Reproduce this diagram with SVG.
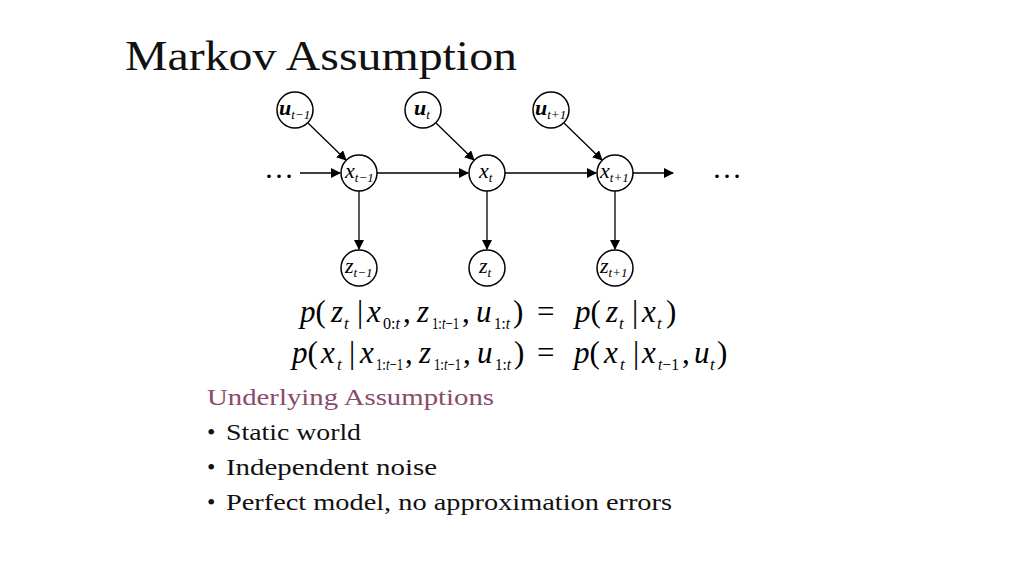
<svg xmlns="http://www.w3.org/2000/svg" width="1024" height="576" viewBox="0 0 1024 576">
<style>
.n{fill:#fff;stroke:#000;stroke-width:1.5}
.l{font-family:"Liberation Serif",serif;font-style:italic;font-size:22px}
.s{font-family:"Liberation Serif",serif;font-style:italic;font-size:13px}
.e{font-family:"Liberation Serif",serif;font-style:italic;font-size:31px}
.es{font-family:"Liberation Serif",serif;font-style:italic;font-size:17px}
.r{font-style:normal}
.c{stroke:#000;stroke-width:1.3;fill:none;marker-end:url(#a)}
.b{font-family:"Liberation Serif",serif;font-size:24px;fill:#111}
</style>
<defs><marker id="a" markerWidth="10" markerHeight="10" refX="9" refY="5" orient="auto" markerUnits="userSpaceOnUse"><path d="M0,0L10,5L0,10z"/></marker></defs>
<rect width="1024" height="576" fill="#fff"/>
<text x="125" y="70" font-family="Liberation Serif,serif" font-size="42" textLength="392" lengthAdjust="spacingAndGlyphs" fill="#111">Markov Assumption</text>
<g id="connectors">
<line class="c" x1="300" y1="173" x2="340" y2="173"/>
<line class="c" x1="377" y1="173" x2="468" y2="173"/>
<line class="c" x1="505" y1="173" x2="596" y2="173"/>
<line class="c" x1="633" y1="173" x2="673" y2="173"/>
<line class="c" x1="308" y1="123" x2="346" y2="160"/>
<line class="c" x1="436" y1="123" x2="474" y2="160"/>
<line class="c" x1="564" y1="123" x2="602" y2="160"/>
<line class="c" x1="359" y1="191" x2="359" y2="249"/>
<line class="c" x1="487" y1="191" x2="487" y2="249"/>
<line class="c" x1="615" y1="191" x2="615" y2="249"/>
</g>
<text x="264" y="178" font-family="Liberation Serif,serif" font-size="30">…</text>
<text x="712" y="178" font-family="Liberation Serif,serif" font-size="30">…</text>
<g id="u1"><circle class="n" cx="295" cy="110" r="18"/><text class="l" x="279" y="115" font-weight="bold">u<tspan class="s" font-weight="normal" dy="4">t−1</tspan></text></g>
<g id="u2"><circle class="n" cx="423" cy="110" r="18"/><text class="l" x="414" y="115" font-weight="bold">u<tspan class="s" font-weight="normal" dy="4">t</tspan></text></g>
<g id="u3"><circle class="n" cx="551" cy="110" r="18"/><text class="l" x="535" y="115" font-weight="bold">u<tspan class="s" font-weight="normal" dy="4">t+1</tspan></text></g>
<g id="x1"><circle class="n" cx="359" cy="173" r="18"/><text class="l" x="345" y="178">x<tspan class="s" dy="4">t−1</tspan></text></g>
<g id="x2"><circle class="n" cx="487" cy="173" r="18"/><text class="l" x="479" y="178">x<tspan class="s" dy="4">t</tspan></text></g>
<g id="x3"><circle class="n" cx="615" cy="173" r="18"/><text class="l" x="600" y="178">x<tspan class="s" dy="4">t+1</tspan></text></g>
<g id="z1"><circle class="n" cx="359" cy="268" r="18"/><text class="l" x="345" y="273">z<tspan class="s" dy="4">t−1</tspan></text></g>
<g id="z2"><circle class="n" cx="487" cy="268" r="18"/><text class="l" x="479" y="273">z<tspan class="s" dy="4">t</tspan></text></g>
<g id="z3"><circle class="n" cx="615" cy="268" r="18"/><text class="l" x="600" y="273">z<tspan class="s" dy="4">t+1</tspan></text></g>
<g id="eq1">
<text class="e" x="300" y="322">p<tspan class="r">(</tspan></text>
<text class="e" x="331" y="322">z</text><text class="es" x="344" y="329">t</text>
<text class="e r" x="357" y="322">|</text>
<text class="e" x="367" y="322">x</text><text class="es" x="383" y="329" textLength="17" lengthAdjust="spacingAndGlyphs"><tspan class="r">0:</tspan>t</text>
<text class="e r" x="403" y="322">,</text>
<text class="e" x="417" y="322">z</text><text class="es" x="432" y="329" textLength="27" lengthAdjust="spacingAndGlyphs"><tspan class="r">1:</tspan>t<tspan class="r">−1</tspan></text>
<text class="e r" x="462" y="322">,</text>
<text class="e" x="476" y="322">u</text><text class="es" x="494" y="329" textLength="16" lengthAdjust="spacingAndGlyphs"><tspan class="r">1:</tspan>t</text>
<text class="e r" x="513" y="322">)</text>
<text class="e r" x="537" y="322">=</text>
<text class="e" x="575" y="322">p<tspan class="r">(</tspan></text>
<text class="e" x="606" y="322">z</text><text class="es" x="619" y="329">t</text>
<text class="e r" x="632" y="322">|</text>
<text class="e" x="642" y="322">x</text><text class="es" x="657" y="329">t</text>
<text class="e r" x="666" y="322">)</text>
</g>
<g id="eq2">
<text class="e" x="292" y="363">p<tspan class="r">(</tspan></text>
<text class="e" x="321" y="363">x</text><text class="es" x="337" y="370">t</text>
<text class="e r" x="349" y="363">|</text>
<text class="e" x="360" y="363">x</text><text class="es" x="376" y="370" textLength="27" lengthAdjust="spacingAndGlyphs"><tspan class="r">1:</tspan>t<tspan class="r">−1</tspan></text>
<text class="e r" x="405" y="363">,</text>
<text class="e" x="419" y="363">z</text><text class="es" x="434" y="370" textLength="27" lengthAdjust="spacingAndGlyphs"><tspan class="r">1:</tspan>t<tspan class="r">−1</tspan></text>
<text class="e r" x="463" y="363">,</text>
<text class="e" x="477" y="363">u</text><text class="es" x="495" y="370" textLength="16" lengthAdjust="spacingAndGlyphs"><tspan class="r">1:</tspan>t</text>
<text class="e r" x="514" y="363">)</text>
<text class="e r" x="537" y="363">=</text>
<text class="e" x="574" y="363">p<tspan class="r">(</tspan></text>
<text class="e" x="604" y="363">x</text><text class="es" x="620" y="370">t</text>
<text class="e r" x="633" y="363">|</text>
<text class="e" x="642" y="363">x</text><text class="es" x="658" y="370" textLength="21" lengthAdjust="spacingAndGlyphs">t<tspan class="r">−1</tspan></text>
<text class="e r" x="682" y="363">,</text>
<text class="e" x="694" y="363">u</text><text class="es" x="710" y="370">t</text>
<text class="e r" x="717" y="363">)</text>
</g>
<text class="b" x="207" y="405" textLength="287" lengthAdjust="spacingAndGlyphs" style="fill:#8a4a6a">Underlying Assumptions</text>
<text class="b" x="207" y="440">•</text><text class="b" x="226" y="440" textLength="135" lengthAdjust="spacingAndGlyphs">Static world</text>
<text class="b" x="207" y="475">•</text><text class="b" x="226" y="475" textLength="211" lengthAdjust="spacingAndGlyphs">Independent noise</text>
<text class="b" x="207" y="510">•</text><text class="b" x="226" y="510" textLength="446" lengthAdjust="spacingAndGlyphs">Perfect model, no approximation errors</text>
</svg>
